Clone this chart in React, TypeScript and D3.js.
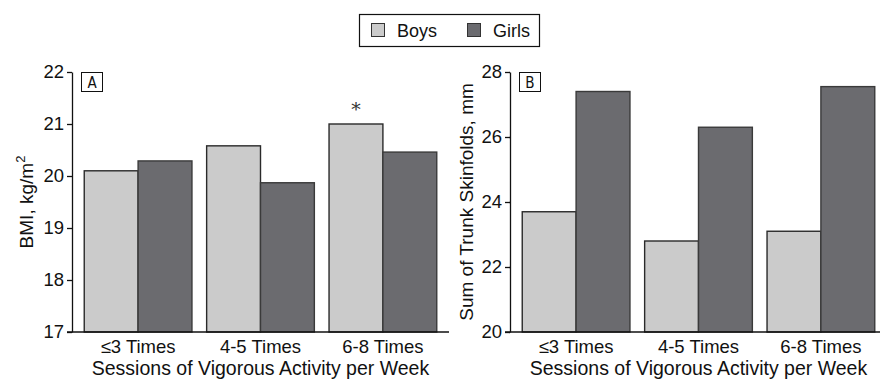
import React, { useRef, useEffect } from 'react';
import * as d3 from 'd3';

const categories = ['≤3 Times', '4-5 Times', '6-8 Times'];
const seriesNames = ['Boys', 'Girls'];
const bmiBoys = [20.1, 20.58, 21.0];
const bmiGirls = [20.29, 19.87, 20.46];
const skinBoys = [23.7, 22.8, 23.1];
const skinGirls = [27.4, 26.3, 27.55];
const bmiTicks = [17, 18, 19, 20, 21, 22];
const skinTicks = [20, 22, 24, 26, 28];
const significant = [false, false, true]; // boys, BMI panel

const colors = { Boys: '#cbcbcb', Girls: '#6b6b6f' };
const FONT = 'Liberation Sans, Arial, sans-serif';

const App = () => {
    const svgRef = useRef<SVGSVGElement>(null);

    useEffect(() => {
        const svg = d3.select(svgRef.current);
        svg.selectAll('*').remove();

        const top = 72, bottom = 332;

        const drawPanel = (opts: {
            left: number; right: number; domain: [number, number]; ticks: number[];
            boys: number[]; girls: number[]; label: string; yTitle: string;
            yTitleX: number; sup?: boolean; stars?: boolean[];
        }) => {
            const x = d3.scaleBand<string>()
                .domain(categories)
                .range([opts.left, opts.right])
                .paddingInner(0.12)
                .paddingOuter(0.1);
            const sub = d3.scaleBand<string>()
                .domain(seriesNames)
                .range([0, x.bandwidth()]);
            const y = d3.scaleLinear().domain(opts.domain).range([bottom, top]);

            const g = svg.append('g');

            // bars
            categories.forEach((c, i) => {
                const vals = [opts.boys[i], opts.girls[i]];
                seriesNames.forEach((s, j) => {
                    g.append('rect')
                        .attr('x', x(c)! + sub(s)!)
                        .attr('y', y(vals[j]))
                        .attr('width', sub.bandwidth())
                        .attr('height', y(opts.domain[0]) - y(vals[j]))
                        .attr('fill', colors[s as 'Boys' | 'Girls'])
                        .attr('stroke', j === 0 ? '#2a2a2a' : '#3a3a3a')
                        .attr('stroke-width', 1.4);
                });
                if (opts.stars && opts.stars[i]) {
                    g.append('text')
                        .attr('x', x(c)! + sub('Boys')! + sub.bandwidth() / 2)
                        .attr('y', y(opts.boys[i]) - 8)
                        .attr('text-anchor', 'middle')
                        .attr('font-family', 'DejaVu Serif, serif')
                        .attr('font-size', 19)
                        .attr('fill', '#333')
                        .text('*');
                }
            });

            // y axis
            const yAxis = g.append('g')
                .attr('transform', `translate(${opts.left},0)`)
                .call(d3.axisLeft(y).tickValues(opts.ticks).tickFormat(d3.format('d'))
                    .tickSize(5).tickSizeOuter(0).tickPadding(3));
            yAxis.select('.domain').attr('stroke', '#111').attr('stroke-width', 1.3);
            yAxis.selectAll('.tick line').attr('stroke', '#111').attr('stroke-width', 1.3);
            yAxis.selectAll('.tick text')
                .attr('font-family', FONT).attr('font-size', 18.5).attr('fill', '#111');

            // x axis
            const xAxis = g.append('g')
                .attr('transform', `translate(0,${bottom})`)
                .call(d3.axisBottom(x).tickSize(0).tickPadding(8));
            xAxis.select('.domain')
                .attr('d', `M${opts.left - 5},0H${opts.right}`)
                .attr('stroke', '#111').attr('stroke-width', 1.3);
            xAxis.selectAll('.tick text')
                .attr('font-family', FONT).attr('font-size', 18.5).attr('fill', '#111');

            // x title
            g.append('text')
                .attr('x', (opts.left + opts.right) / 2)
                .attr('y', 375)
                .attr('text-anchor', 'middle')
                .attr('font-family', FONT).attr('font-size', 19.5).attr('fill', '#111')
                .text('Sessions of Vigorous Activity per Week');

            // y title
            const yt = g.append('text')
                .attr('transform', `translate(${opts.yTitleX},${(top + bottom) / 2}) rotate(-90)`)
                .attr('text-anchor', 'middle')
                .attr('font-family', FONT).attr('font-size', 19).attr('fill', '#111');
            yt.append('tspan').text(opts.yTitle);
            if (opts.sup) {
                yt.append('tspan').attr('dy', -8).attr('font-size', 13).text('2');
            }

            // panel label
            g.append('rect')
                .attr('x', opts.left + 9.5).attr('y', 72.5)
                .attr('width', 21).attr('height', 19)
                .attr('fill', 'white').attr('stroke', '#111').attr('stroke-width', 1);
            g.append('text')
                .attr('x', opts.left + 20).attr('y', 88)
                .attr('text-anchor', 'middle')
                .attr('font-family', 'DejaVu Sans Condensed, sans-serif').attr('font-size', 15).attr('fill', '#111')
                .text(opts.label);
        };

        drawPanel({
            left: 72, right: 449, domain: [17, 22], ticks: bmiTicks,
            boys: bmiBoys, girls: bmiGirls, label: 'A', yTitle: 'BMI, kg/m',
            yTitleX: 33, sup: true, stars: significant,
        });
        drawPanel({
            left: 510, right: 887, domain: [20, 28], ticks: skinTicks,
            boys: skinBoys, girls: skinGirls, label: 'B', yTitle: 'Sum of Trunk Skinfolds, mm',
            yTitleX: 473,
        });

        // legend
        const lg = svg.append('g');
        lg.append('rect')
            .attr('x', 359.5).attr('y', 14.5).attr('width', 180).attr('height', 32)
            .attr('fill', 'white').attr('stroke', '#111').attr('stroke-width', 1.2);
        const legendX = [371, 467];
        seriesNames.forEach((s, i) => {
            lg.append('rect')
                .attr('x', legendX[i] + 0.5).attr('y', 23.5).attr('width', 13).attr('height', 13)
                .attr('fill', colors[s as 'Boys' | 'Girls'])
                .attr('stroke', '#333').attr('stroke-width', 1);
            lg.append('text')
                .attr('x', legendX[i] + 26).attr('y', 37)
                .attr('font-family', FONT).attr('font-size', 18).attr('fill', '#111')
                .text(s);
        });
    }, []);

    return (
        <svg ref={svgRef} width="880" height="379"
            style={{ position: 'absolute', left: 0, top: 0, background: 'white' }}></svg>
    );
};

export default App;
